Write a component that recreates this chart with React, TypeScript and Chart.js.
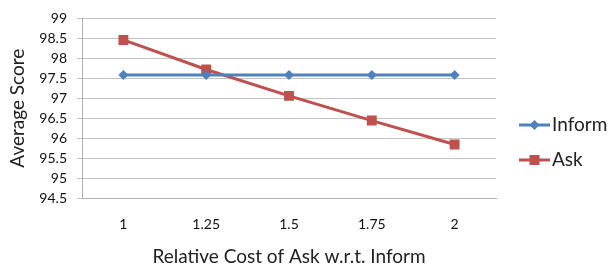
import React, { useEffect, useRef } from "react";
import { Chart, registerables } from "chart.js";

Chart.register(...registerables);

const categories = ["1", "1.25", "1.5", "1.75", "2"];
const informValues = [97.58, 97.58, 97.58, 97.58, 97.58];
const askValues = [98.46, 97.72, 97.06, 96.44, 95.84];
const yMin = 94.5;
const yMax = 99;
const yStep = 0.5;

const BLUE = "#4F81BD";
const RED = "#C0504D";
const FONT = "Lato, 'Open Sans', sans-serif";

const legendPlugin = {
  id: "sideLegend",
  afterDraw(chart: any) {
    const ctx = chart.ctx;
    const items = [
      { label: "Inform", color: BLUE, style: "diamond", y: 125 },
      { label: "Ask", color: RED, style: "square", y: 160 },
    ];
    ctx.save();
    items.forEach((it) => {
      const x0 = 519;
      const x1 = 550;
      const cx = (x0 + x1) / 2;
      ctx.strokeStyle = it.color;
      ctx.lineWidth = 3;
      ctx.beginPath();
      ctx.moveTo(x0, it.y);
      ctx.lineTo(x1, it.y);
      ctx.stroke();
      ctx.fillStyle = it.color;
      if (it.style === "diamond") {
        ctx.beginPath();
        ctx.moveTo(cx, it.y - 5);
        ctx.lineTo(cx + 5, it.y);
        ctx.lineTo(cx, it.y + 5);
        ctx.lineTo(cx - 5, it.y);
        ctx.closePath();
        ctx.fill();
      } else {
        ctx.fillRect(cx - 5, it.y - 5, 10, 10);
      }
      ctx.fillStyle = "#222";
      ctx.font = `19px ${FONT}`;
      ctx.textAlign = "left";
      ctx.textBaseline = "middle";
      ctx.fillText(it.label, 552, it.y);
    });
    ctx.restore();
  },
};

export default function App() {
  const ref = useRef<HTMLCanvasElement>(null);
  useEffect(() => {
    if (!ref.current) return;
    const chart = new Chart(ref.current, {
      type: "line",
      data: {
        labels: categories,
        datasets: [
          {
            label: "Inform",
            data: informValues,
            borderColor: BLUE,
            backgroundColor: BLUE,
            borderWidth: 3,
            pointStyle: "rectRot",
            pointRadius: 5,
            pointBorderWidth: 0,
            tension: 0,
          },
          {
            label: "Ask",
            data: askValues,
            borderColor: RED,
            backgroundColor: RED,
            borderWidth: 3,
            pointStyle: "rect",
            pointRadius: 7,
            pointBorderWidth: 0,
            tension: 0,
          },
        ],
      },
      options: {
        animation: false,
        responsive: false,
        layout: { padding: { top: 15, right: 114, left: 0, bottom: 0 } },
        plugins: { legend: { display: false }, tooltip: { enabled: false } },
        scales: {
          x: {
            offset: true,
            grid: { display: false, drawTicks: false },
            border: { display: true, color: "#b0b0b0", width: 1 },
            ticks: { color: "#111", font: { family: FONT, size: 14 }, padding: 18, maxRotation: 0 },
            title: {
              display: true,
              text: "Relative Cost of Ask w.r.t. Inform",
              color: "#222",
              font: { family: FONT, size: 19 },
              padding: 0,
            },
            afterFit: (s: any) => {
              s.height = 70;
            },
          },
          y: {
            min: yMin,
            max: yMax,
            ticks: {
              stepSize: yStep,
              color: "#111",
              font: { family: FONT, size: 14 },
              padding: 10,
              callback: (v: any) => String(Math.round(Number(v) * 10) / 10),
            },
            grid: { color: "#c4c4c4", lineWidth: 1, tickLength: 5 },
            border: { display: true, color: "#b0b0b0", width: 1 },
            title: {
              display: true,
              text: "Average Score",
              color: "#222",
              font: { family: FONT, size: 19 },
              padding: { top: 6, bottom: 0 },
            },
            afterFit: (s: any) => {
              s.width = 82;
            },
          },
        },
      },
      plugins: [legendPlugin],
    });
    return () => chart.destroy();
  }, []);
  return (
    <div style={{ position: "fixed", left: 0, top: 0, width: 610, height: 268, background: "#fff" }}>
      <canvas ref={ref} width={610} height={268} />
    </div>
  );
}
